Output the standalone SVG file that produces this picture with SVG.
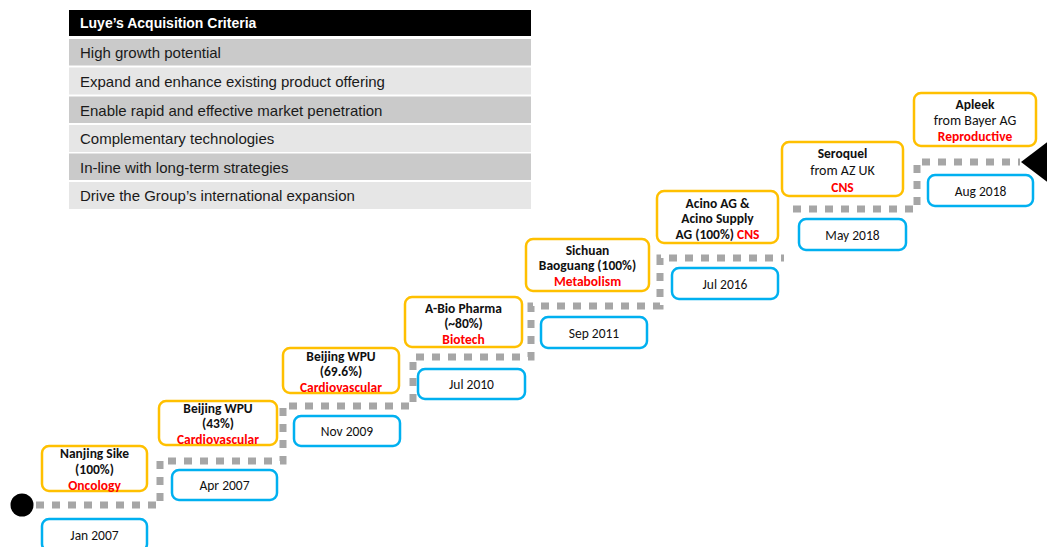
<svg xmlns="http://www.w3.org/2000/svg" width="1047" height="547" viewBox="0 0 1047 547">
<style>
.row-d{fill:#cacaca}
.row-l{fill:#e6e6e6}
.rt{font-family:"Liberation Sans",Arial,sans-serif;font-size:15px;fill:#1a1a1a}
.hd{font-family:"Liberation Sans",Arial,sans-serif;font-size:14px;font-weight:bold;fill:#ffffff}
.ob{fill:#ffffff;stroke:#FFC000;stroke-width:2.5}
.bb{fill:#ffffff;stroke:#00B0F0;stroke-width:2.5}
.nt{font-family:Carlito,Lato,"Open Sans",sans-serif;font-size:13.5px;font-weight:bold;fill:#111;text-anchor:middle}
.nr{font-family:Carlito,Lato,"Open Sans",sans-serif;font-size:14px;font-weight:normal;fill:#111;text-anchor:middle}
.red{fill:#FF0000}
.dt{font-family:Carlito,Lato,"Open Sans",sans-serif;font-size:13.5px;fill:#111;text-anchor:middle}
.dash{fill:none;stroke:#a6a6a6;stroke-width:7;stroke-dasharray:8 8}
</style>
<g id="criteria-table">
<rect x="69" y="10" width="462" height="26" fill="#000"/>
<text class="hd" x="80" y="28">Luye’s Acquisition Criteria</text>
<rect class="row-d" x="69" y="39" width="462" height="26.5"/>
<text class="rt" x="80" y="58">High growth potential</text>
<rect class="row-l" x="69" y="67.5" width="462" height="27"/>
<text class="rt" x="80" y="87">Expand and enhance existing product offering</text>
<rect class="row-d" x="69" y="96.5" width="462" height="26.5"/>
<text class="rt" x="80" y="116">Enable rapid and effective market penetration</text>
<rect class="row-l" x="69" y="125" width="462" height="27"/>
<text class="rt" x="80" y="144">Complementary technologies</text>
<rect class="row-d" x="69" y="153.5" width="462" height="26.5"/>
<text class="rt" x="80" y="173">In-line with long-term strategies</text>
<rect class="row-l" x="69" y="182" width="462" height="27"/>
<text class="rt" x="80" y="201">Drive the Group’s international expansion</text>
</g>
<g id="connectors">
<path class="dash" d="M36 505 H160 V461 H283 V406 H413 V357 H531 V306 H660 V258 H784"/>
<path class="dash" d="M793 209 H917 V162 H1020"/>
<circle cx="22" cy="505" r="11.5" fill="#000"/>
<polygon points="1021,162 1050,140 1050,184" fill="#000"/>
</g>
<g id="n-nanjing">
<rect class="ob" x="42" y="446" width="105" height="45" rx="7"/>
<text class="nt" x="94.5" y="458">Nanjing Sike</text>
<text class="nt" x="94.5" y="474">(100%)</text>
<text class="nt red" x="94.5" y="490">Oncology</text>
</g>
<g id="d-jan2007">
<rect class="bb" x="42" y="519" width="105" height="32" rx="7"/>
<text class="dt" x="94.5" y="540">Jan 2007</text>
</g>
<g id="n-beijing43">
<rect class="ob" x="159" y="401" width="118" height="44" rx="7"/>
<text class="nt" x="218" y="413">Beijing WPU</text>
<text class="nt" x="218" y="428">(43%)</text>
<text class="nt red" x="218" y="444">Cardiovascular</text>
</g>
<g id="d-apr2007">
<rect class="bb" x="172" y="470" width="105" height="30" rx="7"/>
<text class="dt" x="224.5" y="490">Apr 2007</text>
</g>
<g id="n-beijing696">
<rect class="ob" x="283" y="348" width="116" height="45" rx="7"/>
<text class="nt" x="341" y="361">Beijing WPU</text>
<text class="nt" x="341" y="376">(69.6%)</text>
<text class="nt red" x="341" y="392">Cardiovascular</text>
</g>
<g id="d-nov2009">
<rect class="bb" x="294" y="416" width="106" height="30" rx="7"/>
<text class="dt" x="347" y="436">Nov 2009</text>
</g>
<g id="n-abio">
<rect class="ob" x="405" y="297" width="117" height="50" rx="7"/>
<text class="nt" x="463.5" y="313">A-Bio Pharma</text>
<text class="nt" x="463.5" y="328">(~80%)</text>
<text class="nt red" x="463.5" y="344">Biotech</text>
</g>
<g id="d-jul2010">
<rect class="bb" x="418" y="369" width="107" height="30" rx="7"/>
<text class="dt" x="471.5" y="389">Jul 2010</text>
</g>
<g id="n-sichuan">
<rect class="ob" x="526" y="239" width="123" height="52" rx="7"/>
<text class="nt" x="587.5" y="255">Sichuan</text>
<text class="nt" x="587.5" y="270">Baoguang (100%)</text>
<text class="nt red" x="587.5" y="286">Metabolism</text>
</g>
<g id="d-sep2011">
<rect class="bb" x="541" y="317" width="106" height="31" rx="7"/>
<text class="dt" x="594" y="338">Sep 2011</text>
</g>
<g id="n-acino">
<rect class="ob" x="657" y="191" width="121" height="52" rx="7"/>
<text class="nt" x="717.5" y="208">Acino AG &amp;</text>
<text class="nt" x="717.5" y="223">Acino Supply</text>
<text class="nt" x="717.5" y="239">AG (100%) <tspan class="red">CNS</tspan></text>
</g>
<g id="d-jul2016">
<rect class="bb" x="672" y="268" width="106" height="31" rx="7"/>
<text class="dt" x="725" y="289">Jul 2016</text>
</g>
<g id="n-seroquel">
<rect class="ob" x="782" y="142" width="121" height="54" rx="7"/>
<text class="nt" x="842.5" y="158">Seroquel</text>
<text class="nr" x="842.5" y="175">from AZ UK</text>
<text class="nt red" x="842.5" y="192">CNS</text>
</g>
<g id="d-may2018">
<rect class="bb" x="799" y="219" width="107" height="31" rx="7"/>
<text class="dt" x="852.5" y="240">May 2018</text>
</g>
<g id="n-apleek">
<rect class="ob" x="914" y="93" width="122" height="53" rx="7"/>
<text class="nt" x="975" y="109">Apleek</text>
<text class="nr" x="975" y="125">from Bayer AG</text>
<text class="nt red" x="975" y="141">Reproductive</text>
</g>
<g id="d-aug2018">
<rect class="bb" x="928" y="175" width="105" height="31" rx="7"/>
<text class="dt" x="980.5" y="196">Aug 2018</text>
</g>
</svg>
